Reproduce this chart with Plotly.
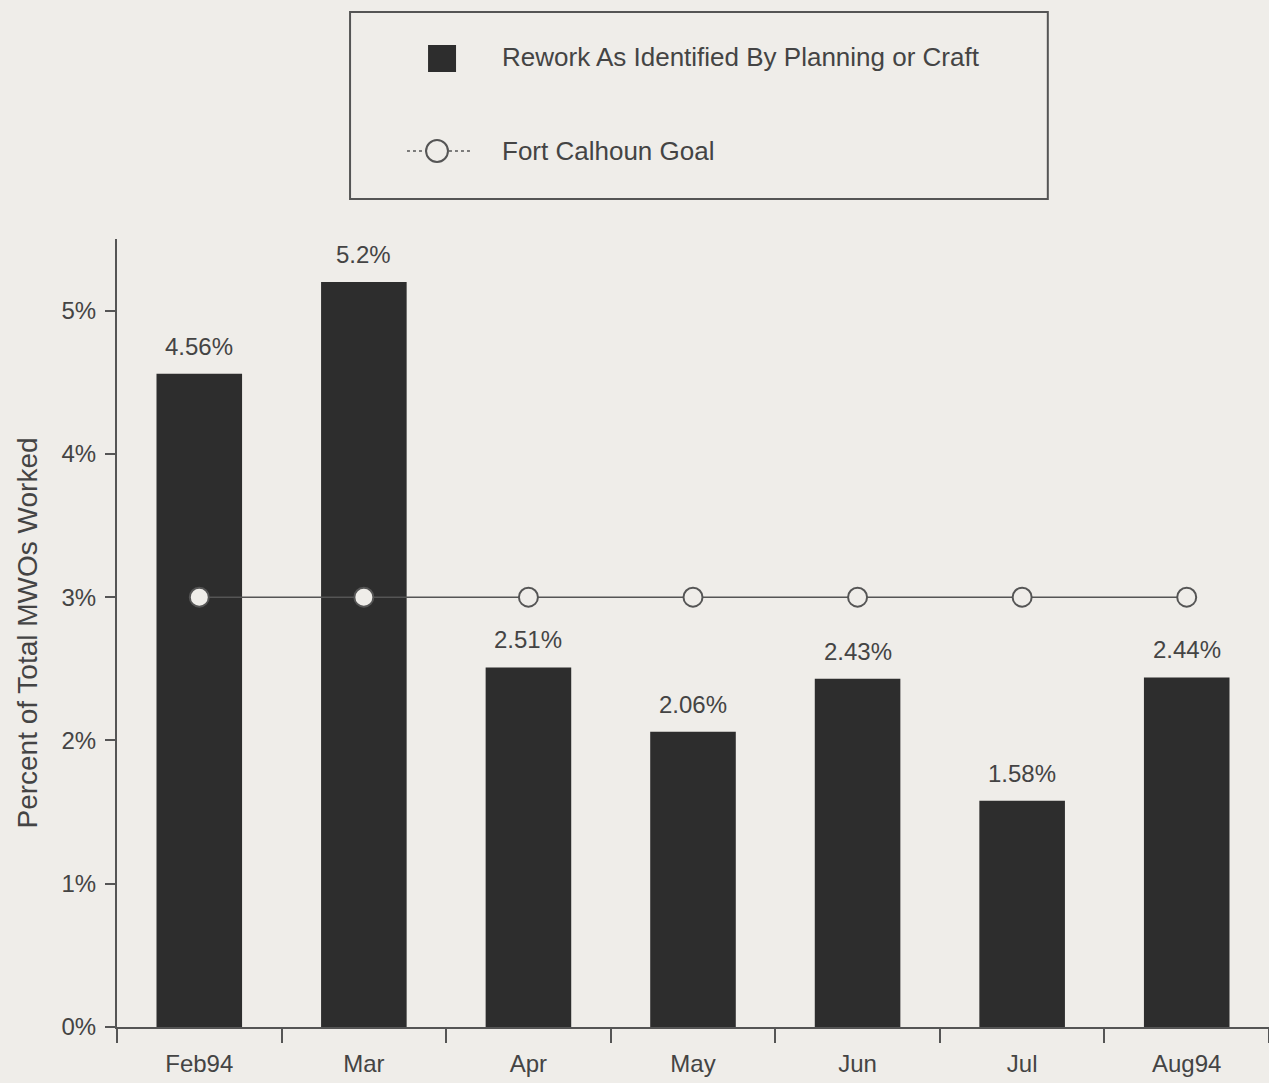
import plotly.graph_objects as go

# Rework chart - Fort Calhoun
months = ["Feb94", "Mar", "Apr", "May", "Jun", "Jul", "Aug94"]
rework_pct = [4.56, 5.2, 2.51, 2.06, 2.43, 1.58, 2.44]
rework_labels = ["4.56%", "5.2%", "2.51%", "2.06%", "2.43%", "1.58%", "2.44%"]
goal_pct = [3, 3, 3, 3, 3, 3, 3]
y_ticks = [0, 1, 2, 3, 4, 5]
y_tick_text = ["0%", "1%", "2%", "3%", "4%", "5%"]

bg = "#efede9"
bar_col = "#2d2d2d"
ink = "#444444"
font = "Liberation Sans, Arial, sans-serif"

fig = go.Figure()
fig.add_trace(go.Bar(x=months, y=rework_pct, width=0.52,
                     marker_color=bar_col, marker_line_width=0,
                     name="Rework As Identified By Planning or Craft"))
fig.add_trace(go.Scatter(x=months, y=goal_pct, mode="lines+markers",
                         line=dict(color="#555555", width=1.5),
                         marker=dict(symbol="circle", size=19, color=bg,
                                     line=dict(color="#555555", width=2)),
                         name="Fort Calhoun Goal"))

# value labels above the bars
for m, v, t in zip(months, rework_pct, rework_labels):
    fig.add_annotation(x=m, y=v, text=t, showarrow=False, yanchor="bottom",
                       yshift=12, font=dict(size=24, color=ink, family=font))

# legend box drawn by hand so the symbols match the original size
fig.add_shape(type="rect", xref="paper", yref="paper",
              x0=0.2023, x1=0.808, y0=1.0508, y1=1.288,
              line=dict(color="#555555", width=2), fillcolor=bg)
fig.add_shape(type="rect", xref="paper", yref="paper",
              x0=0.2700, x1=0.2943, y0=1.2119, y1=1.2462,
              line=dict(width=0), fillcolor=bar_col)
fig.add_shape(type="line", xref="paper", yref="paper",
              x0=0.2517, x1=0.3064, y0=1.1117, y1=1.1117,
              line=dict(color="#555555", width=1.5, dash="dot"))
fig.add_shape(type="circle", xref="paper", yref="paper",
              x0=0.2683, x1=0.2873, y0=1.0978, y1=1.1256,
              line=dict(color="#555555", width=2), fillcolor=bg)
fig.add_annotation(xref="paper", yref="paper", x=0.3325, y=1.231,
                   text="Rework As Identified By Planning or Craft",
                   showarrow=False, xanchor="left", yanchor="middle",
                   font=dict(size=26, color=ink, family=font))
fig.add_annotation(xref="paper", yref="paper", x=0.3325, y=1.1117,
                   text="Fort Calhoun Goal",
                   showarrow=False, xanchor="left", yanchor="middle",
                   font=dict(size=26, color=ink, family=font))

fig.update_layout(
    width=1269, height=1083,
    margin=dict(l=117, r=0, t=239, b=56),
    paper_bgcolor=bg, plot_bgcolor=bg,
    showlegend=False,
    font=dict(family=font, size=24, color=ink),
    xaxis=dict(range=[-0.5, 6.5], showgrid=False, zeroline=False,
               showline=True, linecolor="#555555", linewidth=2,
               ticks="outside", tickson="boundaries", ticklen=14,
               tickcolor="#555555", tickwidth=2, ticklabelstandoff=14,
               tickfont=dict(size=24, color=ink)),
    yaxis=dict(range=[0, 5.5], tickmode="array", tickvals=y_ticks,
               ticktext=y_tick_text,
               showgrid=False, zeroline=False,
               showline=True, linecolor="#555555", linewidth=2,
               ticks="outside", ticklen=10, tickcolor="#555555", tickwidth=2,
               ticklabelstandoff=4,
               tickfont=dict(size=24, color=ink),
               title=dict(text="Percent of Total MWOs Worked",
                          font=dict(size=28, color=ink), standoff=16)),
)

fig.write_html("out.html", config={"displayModeBar": False},
               post_script="document.body.style.margin='0px';")
